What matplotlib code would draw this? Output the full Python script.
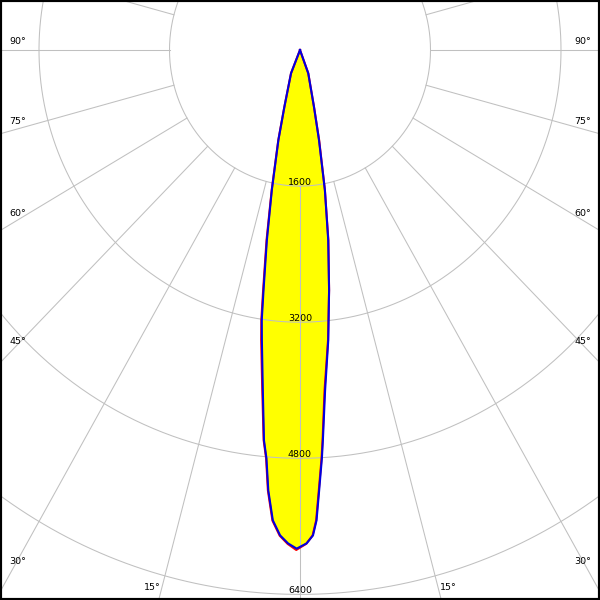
import numpy as np
import matplotlib
matplotlib.use('Agg')
import matplotlib.pyplot as plt

# intensity rings (cd) and angle labels
ring_values = [1600, 3200, 4800, 6400]
ring_labels = ['1600', '3200', '4800', '6400']
side_labels = ['90°', '75°', '60°', '45°', '30°']
bottom_label = '15°'

# luminous intensity curve, angle from nadir (deg) -> cd
blue_angles = [-28, -21.9, -16.0, -14.05, -11.85, -10.3, -9.0, -8.4, -7.8, -6.5, -5.5,
               -4.9, -4.3, -3.45, -2.45, -1.45, -0.4, 0.8, 1.6, 2.1, 2.6, 3.2, 3.5,
               4.4, 5.8, 7.2, 8.8, 10.5, 12.4, 14.4, 20.3, 27]
blue_values = [0, 295, 694, 1091, 1683, 2272, 2859, 3210, 3444, 4026, 4609,
               4818, 5190, 5539, 5711, 5802, 5862, 5801, 5708, 5533, 5181, 4807, 4596,
               4012, 3429, 2846, 2262, 1675, 1084, 688, 292, 0]
red_angles = [-28, -21.9, -16.0, -14.1, -11.9, -10.4, -9.1, -8.5, -7.95, -6.6, -5.55,
              -4.95, -4.35, -3.5, -2.5, -1.5, -0.45, 0.75, 1.55, 2.05, 2.55, 3.15, 3.45,
              4.3, 5.75, 7.2, 8.85, 10.5, 12.5, 14.4, 20.3, 27]
red_values = [0, 295, 694, 1091, 1683, 2272, 2859, 3210, 3444, 4026, 4609,
              4818, 5192, 5542, 5715, 5808, 5878, 5806, 5710, 5533, 5181, 4807, 4596,
              4012, 3429, 2846, 2262, 1675, 1084, 688, 292, 0]

grid_col = '#c0c0c0'

fig = plt.figure(figsize=(6, 6), dpi=100)
ax = fig.add_axes([0, 0, 1, 1])

def to_xy(ang, val):
    a = np.radians(np.asarray(ang, dtype=float))
    v = np.asarray(val, dtype=float)
    return v * np.sin(a), -v * np.cos(a)

# fill
bx, by = to_xy(blue_angles, blue_values)
ax.fill(bx, by, color='#ffff00', zorder=1, lw=0)

# grid rings
t = np.linspace(0, 2 * np.pi, 721)
for r in ring_values:
    ax.plot(r * np.sin(t), -r * np.cos(t), color=grid_col, lw=0.75, zorder=2)

# radial lines outside the first ring
for a in range(-180, 180, 15):
    rr = np.array([ring_values[0], 10000])
    ax.plot(rr * np.sin(np.radians(a)), -rr * np.cos(np.radians(a)),
            color=grid_col, lw=0.75, zorder=2)

# curves
rx, ry = to_xy(red_angles, red_values)
ax.plot(rx, ry, color='#ff0000', lw=1.5, zorder=3, solid_joinstyle='round')
ax.plot(bx, by, color='#0000e0', lw=1.5, zorder=4, solid_joinstyle='round')

# ring labels
for r, lab in zip(ring_values, ring_labels):
    ax.annotate(lab, (0, -r), xytext=(0, 1), textcoords='offset points',
                ha='center', va='baseline', fontsize=6.8, color='black', zorder=5)

# angle labels
side_y = [42, 122, 214, 341, 561]
for lab, yp in zip(side_labels, side_y):
    ax.text(9 / 600, 1 - yp / 600, lab, transform=ax.transAxes, ha='left',
            va='center', fontsize=6.8, zorder=5)
    ax.text(591 / 600, 1 - yp / 600, lab, transform=ax.transAxes, ha='right',
            va='center', fontsize=6.8, zorder=5)
ax.text(152 / 600, 1 - 588 / 600, bottom_label, transform=ax.transAxes, ha='center',
        va='center', fontsize=6.8, zorder=5)
ax.text(448 / 600, 1 - 588 / 600, bottom_label, transform=ax.transAxes, ha='center',
        va='center', fontsize=6.8, zorder=5)

px_x = 1600 / 130.5
px_y = 1600 / 136.1
ax.set_xlim(-300 * px_x, 300 * px_x)
ax.set_ylim(-550 * px_y, 50 * px_y)
ax.set_xticks([])
ax.set_yticks([])
for s in ax.spines.values():
    s.set_color('black')
    s.set_linewidth(3)

fig.savefig('out.png', dpi=100)
